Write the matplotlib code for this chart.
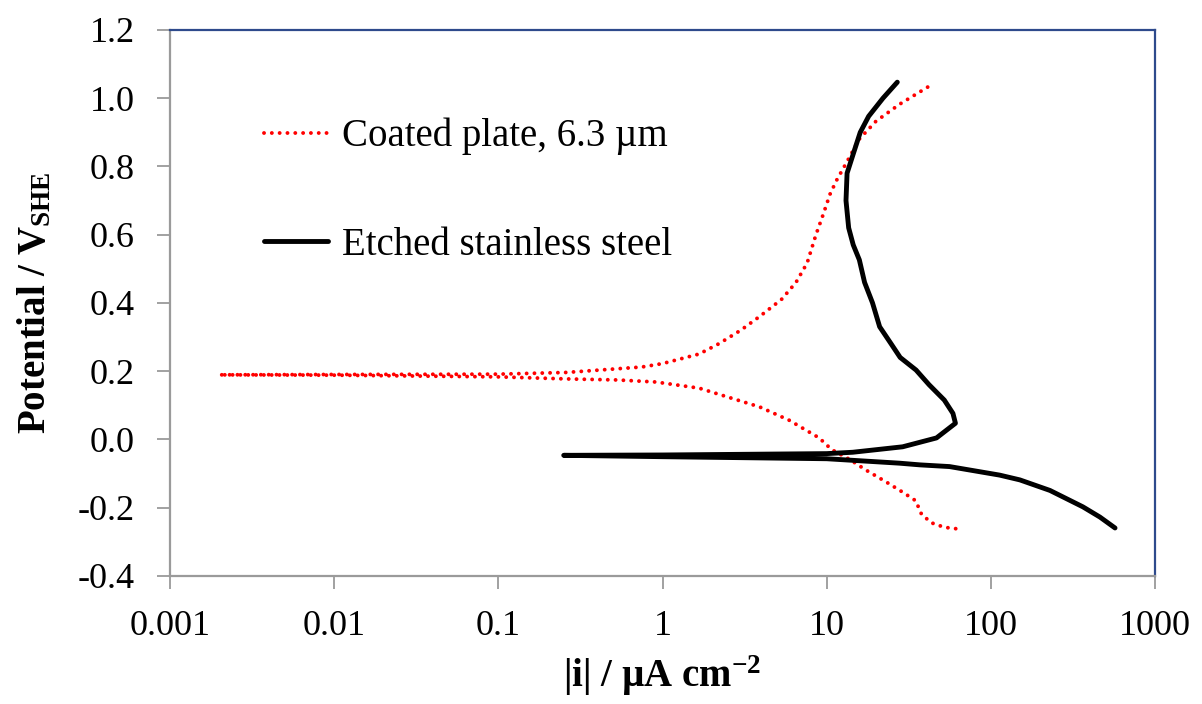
import matplotlib.pyplot as plt
from matplotlib.ticker import FixedLocator, NullLocator

plt.rcParams['font.family'] = ['Liberation Serif', 'DejaVu Serif']
plt.rcParams['mathtext.default'] = 'regular'

# coated plate, 6.3 um: cathodic branch -> Ecorr -> anodic branch
coated_i = [61, 52, 43.5, 37.8, 34.8, 29, 23, 17.3, 13.9, 10.7, 9.0, 5.9, 3.9,
            2.65, 1.67, 0.91, 0.53, 0.26, 0.1, 0.01, 0.002,
            0.01, 0.1, 0.26, 0.75, 1.0, 1.67, 2.2, 3.0, 3.9, 5.3, 6.5, 7.6,
            8.6, 9.4, 10.5, 11.5, 13.8, 15.7, 19.9, 27.7, 44]
coated_E = [-0.262, -0.258, -0.245, -0.22, -0.18, -0.155, -0.125, -0.09, -0.06,
            -0.03, 0.004, 0.056, 0.095, 0.12, 0.15, 0.168, 0.174, 0.177, 0.183,
            0.188, 0.189,
            0.19, 0.191, 0.196, 0.212, 0.222, 0.25, 0.28, 0.32, 0.36, 0.41,
            0.46, 0.517, 0.6, 0.652, 0.72, 0.76, 0.828, 0.879, 0.932, 0.982, 1.041]

# etched stainless steel
steel_i = [570, 461, 363, 229, 150, 113, 56, 37, 27.7, 10, 1, 0.25,
           1, 10, 14.4, 29, 46.6, 60.8, 58.7, 52, 42, 35, 28, 24.5, 21, 19,
           17, 15.8, 14.5, 13.6, 13.1, 13.3, 14.6, 16, 18, 22, 26.9]
steel_E = [-0.26, -0.228, -0.198, -0.15, -0.119, -0.105, -0.08, -0.075, -0.07,
           -0.057, -0.051, -0.047,
           -0.046, -0.042, -0.038, -0.022, 0.004, 0.047, 0.076, 0.115, 0.16,
           0.203, 0.24, 0.282, 0.33, 0.40, 0.46, 0.526, 0.57, 0.62, 0.70,
           0.78, 0.841, 0.9, 0.947, 1.0, 1.047]

x_ticks = [0.001, 0.01, 0.1, 1, 10, 100, 1000]
x_ticklabels = ['0.001', '0.01', '0.1', '1', '10', '100', '1000']
y_ticks = [-0.4, -0.2, 0.0, 0.2, 0.4, 0.6, 0.8, 1.0, 1.2]

fig = plt.figure(figsize=(12.02, 7.04), dpi=100)
ax = fig.add_axes([0.1414, 0.1822, 0.8196, 0.7752])

ax.plot(coated_i, coated_E, color='#ff0000', lw=2.8, linestyle=(0, (0.01, 2.0)),
        dash_capstyle='round', label='Coated plate, 6.3 \u00b5m')
ax.plot(steel_i, steel_E, color='black', lw=3.5, solid_capstyle='round',
        solid_joinstyle='round', label='Etched stainless steel')

ax.set_xscale('log')
ax.set_xlim(0.001, 1000)
ax.set_ylim(-0.4, 1.2)
ax.xaxis.set_major_locator(FixedLocator(x_ticks))
ax.xaxis.set_minor_locator(NullLocator())
ax.set_xticklabels(x_ticklabels)
ax.set_yticks(y_ticks)
ax.set_yticklabels([f'{v:.1f}' for v in y_ticks])

for side in ['left', 'bottom']:
    ax.spines[side].set_color('#9a9a9a')
    ax.spines[side].set_linewidth(1.6)
for side in ['top', 'right']:
    ax.spines[side].set_color('#2e4a8c')
    ax.spines[side].set_linewidth(1.6)

ax.tick_params(axis='both', direction='out', length=9.5, width=1.3,
               color='#9a9a9a', labelsize=26)
ax.tick_params(axis='x', pad=15)
ax.tick_params(axis='y', pad=16)

ax.set_xlabel('|i| / \u00b5A cm$^{-2}$', fontsize=28, fontweight='bold', labelpad=8)
ax.set_ylabel('Potential / V$_{SHE}$', fontsize=28, fontweight='bold', labelpad=17)

ax.legend(loc='upper left', bbox_to_anchor=(0.076, 0.875), frameon=False,
          fontsize=28, borderpad=0, labelspacing=1.85, handlelength=1.65,
          handletextpad=0.35)

fig.savefig('out.png', dpi=100)
